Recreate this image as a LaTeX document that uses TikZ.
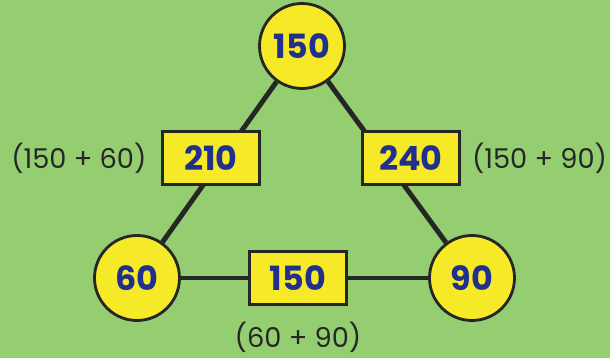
\documentclass[tikz,border=0pt]{standalone}
\usepackage{fontspec}
\setmainfont{Poppins}
\usetikzlibrary{positioning}
\definecolor{bggreen}{RGB}{148,206,112}
\definecolor{nodeyellow}{RGB}{246,234,40}
\definecolor{numblue}{RGB}{32,48,140}
\definecolor{edgegray}{RGB}{38,38,38}
\begin{document}
\begin{tikzpicture}[x=0.02cm, y=-0.02cm,
    vertex/.style={draw=edgegray, line width=1.6pt, circle, fill=nodeyellow,
      minimum size=1.7cm, inner sep=0pt, text=numblue, font=\fontsize{19}{21}\selectfont\bfseries},
    sumbox/.style={draw=edgegray, line width=1.2pt, rectangle, fill=nodeyellow,
      minimum width=1.94cm, minimum height=1.06cm, inner sep=0pt, text=numblue,
      font=\fontsize{19}{21}\selectfont\bfseries},
    sumtext/.style={text=edgegray, font=\fontsize{15.5}{18}\selectfont},
    edge/.style={draw=edgegray, line width=2.8pt}]
    % Background
    \fill[bggreen] (0,0) rectangle (610,358);
    \useasboundingbox (0,0) rectangle (610,358);
    % Corner numbers
    \node[vertex] (top) at (302,46) {150};
    \node[vertex] (left) at (137,278) {60};
    \node[vertex] (right) at (472,278) {90};
    % Sides
    \draw[edge] (top) -- (left);
    \draw[edge] (top) -- (right);
    \draw[edge] (left) -- (right);
    % Side sums
    \node[sumbox] (sumtl) at (211,158) {210};
    \node[sumbox] (sumtr) at (411,158) {240};
    \node[sumbox] (sumlr) at (298,278) {150};
    % Sum labels
    \node[sumtext, left=5pt of sumtl] (labtl) {(150 + 60)};
    \node[sumtext, right=3pt of sumtr] (labtr) {(150 + 90)};
    \node[sumtext] (lablr) at (298,337) {(60 + 90)};
\end{tikzpicture}
\end{document}
